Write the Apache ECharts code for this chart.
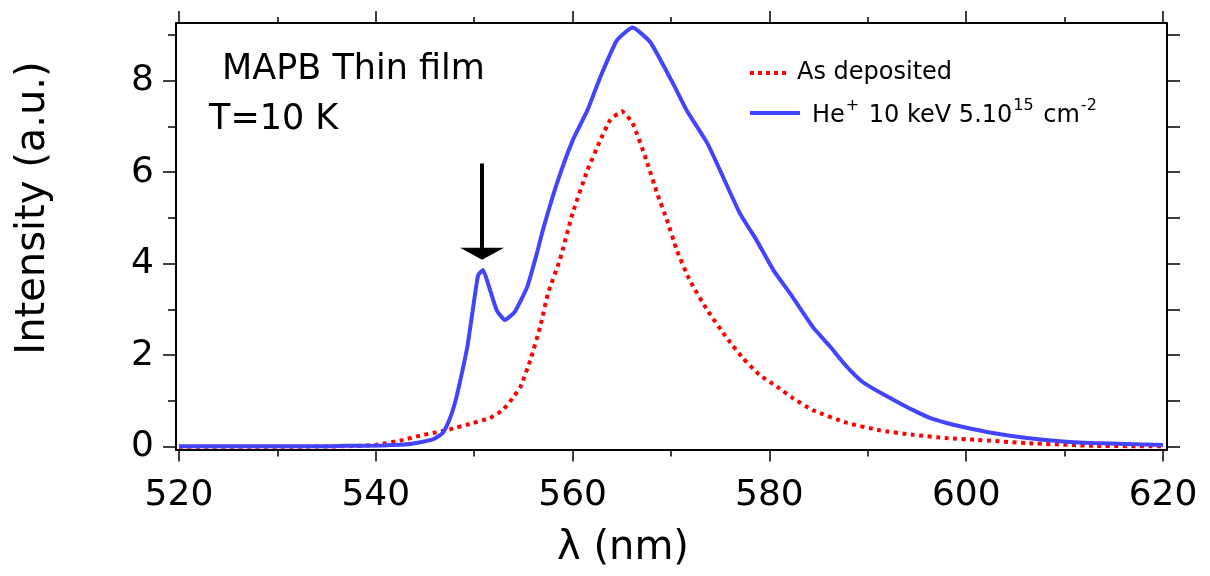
<!DOCTYPE html>
<html><head><meta charset="utf-8">
<script src="https://cdn.jsdelivr.net/npm/echarts@6/dist/echarts.min.js"></script>
<style>html,body{margin:0;padding:0;background:#fff}#c{width:1210px;height:576px}</style>
</head><body><div id="c"></div>
<script>
// ---- data ----
const wavelengthAsDeposited = [520, 530, 537, 540, 542.8, 544.6, 545.8, 547.5, 549.9, 551.6, 552.9, 553.9, 554.7, 555.7, 556.7, 557.5, 558.7, 560.0, 561.5, 562.8, 563.8, 565.0, 566.1, 567.5, 568.6, 569.6, 570.6, 571.9, 573.7, 575.7, 577.3, 579.0, 580.8, 582.4, 584.4, 587.9, 591.2, 594.6, 598.0, 601.1, 606.2, 612.9, 620];
const intensityAsDeposited = [0.0, 0.0, 0.01, 0.04, 0.15, 0.25, 0.3, 0.38, 0.52, 0.63, 0.8, 1.06, 1.31, 1.89, 2.62, 3.35, 4.08, 5.10, 6.04, 6.69, 7.13, 7.33, 7.07, 6.26, 5.53, 4.95, 4.29, 3.64, 2.98, 2.37, 1.94, 1.57, 1.31, 1.06, 0.80, 0.52, 0.36, 0.26, 0.19, 0.15, 0.08, 0.02, 0.01];
const wavelengthIrradiated = [520, 525, 530, 535, 537, 540.7, 543.5, 545.8, 546.8, 547.5, 548.1, 548.6, 549.3, 549.9, 550.4, 550.9, 551.4, 552.3, 553.1, 554.1, 555.4, 556.4, 557.0, 558.4, 560.0, 561.5, 562.8, 564.5, 566.1, 567.9, 570.2, 571.6, 573.7, 575.3, 577.0, 578.7, 580.4, 582.1, 584.4, 586.2, 587.9, 589.5, 591.2, 593.0, 594.6, 596.3, 598.0, 599.7, 602.7, 606.2, 609.5, 612.9, 616.3, 620];
const intensityIrradiated = [0.01, 0.01, 0.01, 0.01, 0.02, 0.03, 0.06, 0.16, 0.3, 0.6, 1.0, 1.46, 2.18, 3.05, 3.75, 3.86, 3.57, 2.98, 2.77, 2.94, 3.5, 4.25, 4.75, 5.75, 6.69, 7.35, 8.07, 8.88, 9.16, 8.84, 7.94, 7.35, 6.63, 5.89, 5.10, 4.51, 3.86, 3.35, 2.62, 2.18, 1.74, 1.41, 1.19, 0.98, 0.80, 0.63, 0.52, 0.43, 0.30, 0.19, 0.12, 0.08, 0.06, 0.04];
const seriesNames = ['As deposited', 'He+ 10 keV 5.10^15 cm^-2'];
const xMajorTicks = [520, 540, 560, 580, 600, 620];
const xMinorTicks = [530, 550, 570, 590, 610];
const yMajorTicks = [0, 2, 4, 6, 8];
const yMinorTicks = [1, 3, 5, 7, 9];
const yRightTicks = [0, 1, 2, 3, 4, 5, 6, 7, 8, 9];
const arrowX = 550.8, arrowTop = 6.19, arrowTip = 4.22;

const FONT = 'DejaVu Sans';
const XMIN = 519.7, XMAX = 620.4, YMIN = -0.06, YMAX = 9.26;
const pair = (xs, ys) => xs.map((x, i) => [x, ys[i]]);

function xAx(position, ticks, len, labels, line) {
  return {
    type: 'value', position: position, offset: 0, min: XMIN, max: XMAX,
    axisLine: { show: line, onZero: false, lineStyle: { color: '#000', width: 2 } },
    axisTick: { show: true, inside: false, length: len, customValues: ticks, lineStyle: { color: '#000', width: 1.5 } },
    axisLabel: labels ? { show: true, customValues: ticks, fontSize: 36, fontFamily: FONT, color: '#000', margin: 28 } : { show: false },
    splitLine: { show: false }
  };
}
function yAx(position, ticks, len, labels, line) {
  return {
    type: 'value', position: position, offset: 0, min: YMIN, max: YMAX,
    axisLine: { show: line, onZero: false, lineStyle: { color: '#000', width: 2 } },
    axisTick: { show: true, inside: false, length: len, customValues: ticks, lineStyle: { color: '#000', width: 1.5 } },
    axisLabel: labels ? { show: true, customValues: ticks, fontSize: 36, fontFamily: FONT, color: '#000', margin: 22 } : { show: false },
    splitLine: { show: false }
  };
}

const dottedIcon = 'path://M0,0h4v4h-4z M8,0h4v4h-4z M16,0h4v4h-4z M24,0h4v4h-4z M32,0h4v4h-4z';

const chart = echarts.init(document.getElementById('c'), null, { renderer: 'canvas' });
chart.setOption({
  animation: false,
  backgroundColor: '#fff',
  grid: { left: 176, right: 43, top: 23, bottom: 126.5, containLabel: false },
  xAxis: [
    xAx('bottom', xMajorTicks, 12, true, true),
    xAx('bottom', xMinorTicks, 7, false, false),
    xAx('top', xMajorTicks, 12, false, true),
    xAx('top', xMinorTicks, 6, false, false)
  ],
  yAxis: [
    yAx('left', yMajorTicks, 13, true, true),
    yAx('left', yMinorTicks, 8, false, false),
    yAx('right', yRightTicks, 13, false, true)
  ],
  legend: [
    { data: [{ name: seriesNames[0], icon: dottedIcon }], left: 750, top: 56, padding: [5, 0, 5, 0], itemWidth: 36, itemHeight: 4, itemGap: 0,
      textStyle: { fontSize: 24, fontFamily: FONT, color: '#000', padding: [0, 0, 0, 6] } },
    { data: [{ name: seriesNames[1], icon: 'rect' }], left: 750, top: 93, padding: [5, 0, 5, 0], itemWidth: 50, itemHeight: 4, itemGap: 0,
      formatter: () => '{m|He}{s|+}{m| 10 keV 5.10}{s|15}{m| cm}{s|-2}',
      textStyle: { fontSize: 24, fontFamily: FONT, color: '#000', padding: [0, 0, 0, 7],
        rich: { m: { fontSize: 24, fontFamily: FONT, color: '#000', verticalAlign: 'bottom', lineHeight: 30 },
                s: { fontSize: 16, fontFamily: FONT, color: '#000', verticalAlign: 'top', lineHeight: 30, padding: [0, 2, 0, 1] } } } }
  ],
  graphic: [
    { type: 'text', style: { text: 'MAPB Thin film', x: 222, y: 70, fontSize: 35, fontFamily: FONT, fill: '#000', verticalAlign: 'middle' } },
    { type: 'text', style: { text: 'T=10 K', x: 209, y: 120, fontSize: 35, fontFamily: FONT, fill: '#000', verticalAlign: 'middle' } },
    { type: 'text', style: { text: 'λ (nm)', x: 623, y: 549, fontSize: 40, fontFamily: FONT, fill: '#000', align: 'center', verticalAlign: 'middle' } },
    { type: 'text', x: 34, y: 208, rotation: Math.PI / 2, style: { text: 'Intensity (a.u.)', x: 0, y: 0, fontSize: 40, fontFamily: FONT, fill: '#000', align: 'center', verticalAlign: 'middle' } }
  ],
  series: [
    { name: seriesNames[0], type: 'line', xAxisIndex: 0, yAxisIndex: 0, data: pair(wavelengthAsDeposited, intensityAsDeposited),
      symbol: 'none', smooth: 0.15, z: 3,
      lineStyle: { color: '#ff0000', width: 4, type: [4, 4.5], cap: 'butt' }, itemStyle: { color: '#ff0000' } },
    { name: seriesNames[1], type: 'line', xAxisIndex: 0, yAxisIndex: 0, data: pair(wavelengthIrradiated, intensityIrradiated),
      symbol: 'none', smooth: 0.15, z: 4,
      lineStyle: { color: '#4444ff', width: 4 }, itemStyle: { color: '#4444ff' },
      markLine: { silent: true, animation: false, symbol: ['none', 'triangle'], symbolSize: [44, 12],
        lineStyle: { color: '#000', width: 4, type: 'solid' }, itemStyle: { color: '#000' }, label: { show: false },
        data: [[{ coord: [arrowX, arrowTop] }, { coord: [arrowX, arrowTip] }]] } }
  ]
});
</script></body></html>
